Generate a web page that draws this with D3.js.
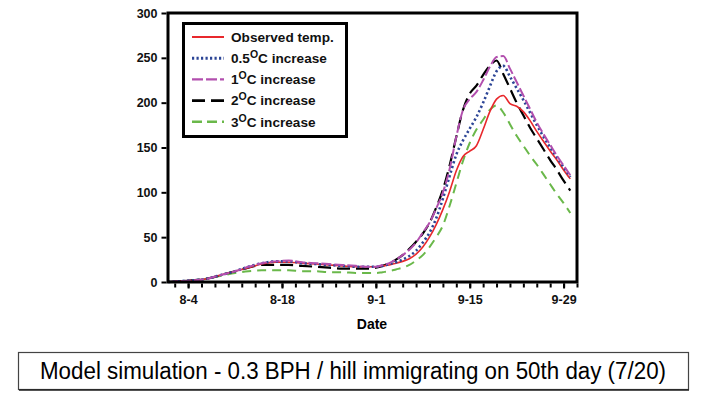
<!DOCTYPE html>
<html><head><meta charset="utf-8">
<script src="https://cdn.jsdelivr.net/npm/d3@7"></script>
<style>body{margin:0;background:#fff}svg{display:block}</style>
</head><body>
<svg id="c" width="703" height="402"></svg>
<script>
// Days counted from Aug 1 (0 = 8-1)
const days = [0,2,4,6,8,10,12,14,16,18,20,22,24,26,28,30,31,32,33,34,35,36,37,38,39,40,41,42,43,44,45,46,47,48,49,50,51,52,53,54,55,56,57,58,59,60];
const observed = [0,1,2,4,8,12,16,20,22,22,21,20,19,18,17,17,17,18,19,21,23,26,31,39,50,64,81,101,124,140,146,152,170,190,204,208,199,196,190,180,168,157,146,136,125,115];
const inc05 = [0,1,2,4,8,12,17,21,23,23,21,20,19,18,17,17,17,18,20,22,25,29,35,44,55,71,93,118,142,158,171,184,200,218,235,241,229,216,203,189,175,162,150,139,128,117];
const inc1 = [0,1,2,4,8,12,17,21,23,24,22,21,20,19,18,17,17,19,21,25,30,36,44,55,66,82,100,126,162,192,204,212,225,240,251,252,238,223,208,193,178,165,153,141,130,119];
const inc2 = [0,1,2,4,8,12,16,19,19,19,18,17,16,15,15,15,16,18,21,25,30,37,45,54,66,83,103,130,162,192,210,219,231,241,247,232,216,200,186,172,160,148,136,125,113,102];
const inc3 = [0,1,2,4,7,10,12,13,13,13,12,12,11,11,10,10,10,11,12,14,16,19,24,30,39,50,63,85,110,135,155,170,181,192,197,189,176,163,152,141,131,120,109,98,88,77];
const seriesNames = ["Observed temp.", "0.5|C increase", "1|C increase", "2|C increase", "3|C increase"];
const xTickDays = [3,17,31,45,59];
const xTickLabels = ["8-4","8-18","9-1","9-15","9-29"];
const yTicks = [0,50,100,150,200,250,300];

const FONT = "'Liberation Sans', Arial, sans-serif";
const styles = [
  {color:"#e8282c", width:1.6, dash:null, ldash:null},
  {color:"#2c4596", width:2.6, dash:"2.2,2.6", ldash:"2.2,2.3"},
  {color:"#b24fae", width:2, dash:"10,3", ldash:"11,3"},
  {color:"#000000", width:2.2, dash:"13,6", ldash:"13,6"},
  {color:"#6ab84a", width:2, dash:"9,6", ldash:"10,5"}
];
const allSeries = [observed, inc05, inc1, inc2, inc3];

const svg = d3.select("#c");
const L=168, R=577, T=13, B=282;
const x = d3.scaleLinear().domain([0,61]).range([L,R]);
const y = d3.scaleLinear().domain([0,300]).range([B,T]);

const line = d3.line().x(d=>x(d[0])).y(d=>y(d[1])).curve(d3.curveMonotoneX);
const order = [4,3,0,1,2];
order.forEach(i=>{
  const pts = days.map((d,k)=>[d, allSeries[i][k]]);
  svg.append("path").attr("d", line(pts)).attr("fill","none")
    .attr("stroke", styles[i].color).attr("stroke-width", styles[i].width)
    .attr("stroke-dasharray", styles[i].dash);
});

// frame
svg.append("rect").attr("x",L).attr("y",T).attr("width",R-L).attr("height",B-T)
  .attr("fill","none").attr("stroke","#000").attr("stroke-width",3);

// y axis
const ya = svg.append("g").attr("transform",`translate(${L-1.5},0)`)
  .call(d3.axisLeft(y).tickValues(yTicks).tickSize(5).tickPadding(4));
ya.select(".domain").remove();
ya.selectAll("line").attr("stroke-width",2);
ya.selectAll("text").attr("font-family",FONT).attr("font-weight","bold").attr("font-size","12.5px").attr("fill","#111");

// x axis minor ticks every 2 days
const minor = d3.range(1,62,2);
const xa = svg.append("g").attr("transform",`translate(0,${B+1.5})`)
  .call(d3.axisBottom(x).tickValues(minor).tickSize(4).tickFormat(""));
xa.select(".domain").remove();
xa.selectAll("line").attr("stroke-width",2);
const xl = svg.append("g").attr("transform",`translate(0,${B+1.5})`)
  .call(d3.axisBottom(x).tickValues(xTickDays).tickSize(5).tickPadding(7).tickFormat((d,i)=>xTickLabels[i]));
xl.select(".domain").remove();
xl.selectAll("line").attr("stroke-width",2);
xl.selectAll("text").attr("font-family",FONT).attr("font-weight","bold").attr("font-size","12.5px").attr("fill","#111");

svg.append("text").attr("x",372).attr("y",329).attr("text-anchor","middle")
  .attr("font-family",FONT).attr("font-weight","bold").attr("font-size","14px").text("Date");

// legend
svg.append("rect").attr("x",183.5).attr("y",23.5).attr("width",163).attr("height",113)
  .attr("fill","#fff").attr("stroke","#000").attr("stroke-width",3);
seriesNames.forEach((name,i)=>{
  const cy = 37 + i*21.2;
  svg.append("line").attr("x1",192).attr("x2",224).attr("y1",cy).attr("y2",cy)
    .attr("stroke",styles[i].color).attr("stroke-width",styles[i].width+0.4)
    .attr("stroke-dasharray",styles[i].ldash);
  const t = svg.append("text").attr("x",231).attr("y",cy+4.8)
    .attr("font-family",FONT).attr("font-weight","bold").attr("font-size","13.6px").attr("fill","#111");
  const parts = name.split("|");
  if(parts.length===1){ t.text(name); }
  else {
    t.append("tspan").text(parts[0]);
    t.append("tspan").attr("dy",-5).attr("font-size","10.5px").text("O");
    t.append("tspan").attr("dy",5).text(parts[1]);
  }
});

// title box
svg.append("rect").attr("x",18.5).attr("y",352.5).attr("width",670).attr("height",37)
  .attr("fill","#fff").attr("stroke","#444").attr("stroke-width",1.2);
svg.append("line").attr("x1",19).attr("x2",689).attr("y1",390).attr("y2",390).attr("stroke","#222").attr("stroke-width",1.5);
svg.append("text").attr("x",353).attr("y",379).attr("text-anchor","middle")
  .attr("font-family",FONT)
  .attr("font-size","23px").attr("fill","#000")
  .attr("textLength",626).attr("lengthAdjust","spacingAndGlyphs")
  .text("Model simulation - 0.3 BPH / hill immigrating on 50th day (7/20)");
</script>
</body></html>
